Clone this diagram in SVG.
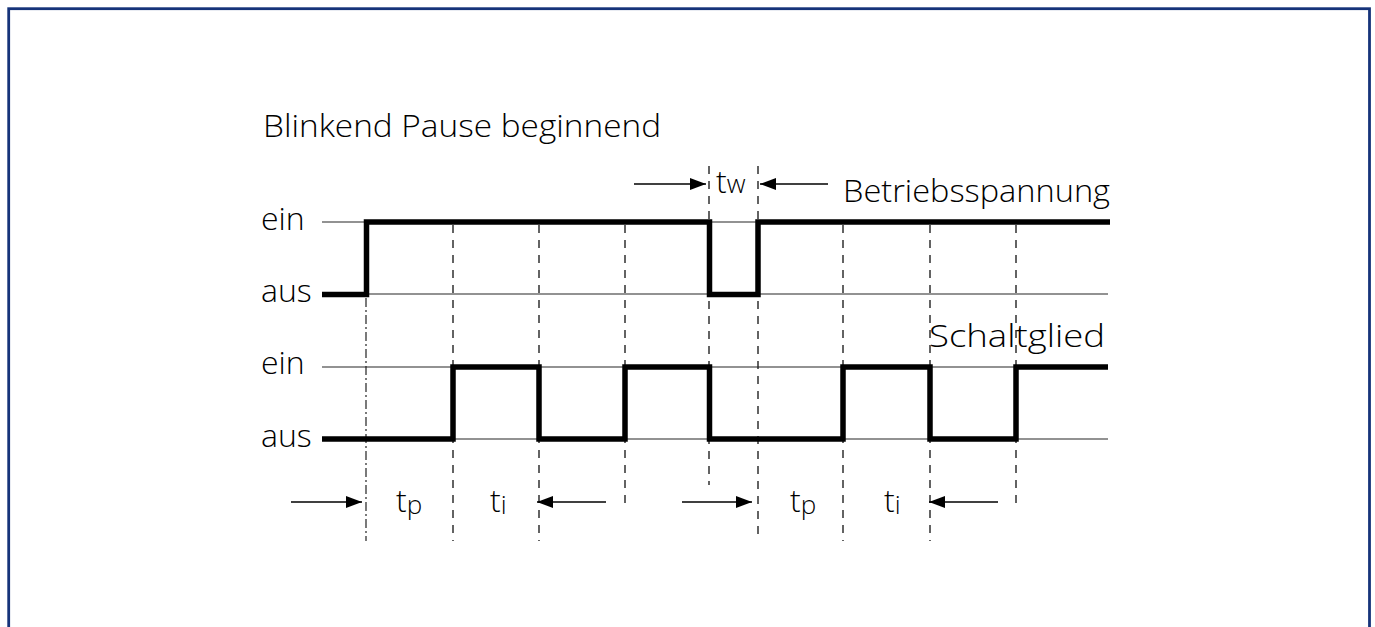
<svg xmlns="http://www.w3.org/2000/svg" width="1375" height="627" viewBox="0 0 1375 627">
  <style>
    text { font-family: "Open Sans", "Noto Sans", "DejaVu Sans", sans-serif; font-weight: 360; fill: #000; }
    .lbl { font-size: 32px; }
    .sub { font-size: 26px; }
    .ref { stroke: #6e6e6e; stroke-width: 1.4; fill: none; }
    .sig { stroke: #000; stroke-width: 5.5; fill: none; stroke-linejoin: miter; stroke-linecap: butt; }
    .guide { stroke: #222; stroke-width: 1.4; stroke-dasharray: 8 7; fill: none; }
    .guide0 { stroke: #222; stroke-width: 1.2; stroke-dasharray: 9 3 2 3; fill: none; }
    .arr { stroke: #000; stroke-width: 1.5; fill: none; marker-end: url(#ah); }
  </style>
  <defs>
    <marker id="ah" markerUnits="userSpaceOnUse" markerWidth="16" markerHeight="12" refX="16" refY="6" orient="auto">
      <path d="M0,0 L16,6 L0,12 z" fill="#000"/>
    </marker>
  </defs>
  <rect x="0" y="0" width="1375" height="627" fill="#fff"/>
  <rect id="frame" x="8.7" y="8.7" width="1360.8" height="640" fill="none" stroke="#16337a" stroke-width="2.8"/>

  <g id="title"><text class="lbl" x="263" y="137" textLength="398" lengthAdjust="spacingAndGlyphs">Blinkend Pause beginnend</text></g>

  <g id="axis-labels">
    <text class="lbl" x="261" y="230">ein</text>
    <text class="lbl" x="261" y="302">aus</text>
    <text class="lbl" x="261" y="374">ein</text>
    <text class="lbl" x="261" y="447">aus</text>
    <text class="lbl" x="843" y="202" textLength="267" lengthAdjust="spacingAndGlyphs">Betriebsspannung</text>
    <text class="lbl" x="929" y="347" textLength="176" lengthAdjust="spacingAndGlyphs">Schaltglied</text>
  </g>

  <g id="reference-lines">
    <line class="ref" x1="322" y1="222" x2="1108" y2="222"/>
    <line class="ref" x1="322" y1="294" x2="1108" y2="294"/>
    <line class="ref" x1="322" y1="367" x2="1108" y2="367"/>
    <line class="ref" x1="322" y1="439" x2="1108" y2="439"/>
  </g>

  <g id="guides">
    <line class="guide0" x1="366" y1="298" x2="366" y2="541"/>
    <line class="guide" x1="453" y1="225" x2="453" y2="541"/>
    <line class="guide" x1="539" y1="225" x2="539" y2="541"/>
    <line class="guide" x1="625" y1="225" x2="625" y2="503"/>
    <line class="guide" x1="709" y1="166" x2="709" y2="485"/>
    <line class="guide" x1="758" y1="166" x2="758" y2="541"/>
    <line class="guide" x1="843" y1="225" x2="843" y2="541"/>
    <line class="guide" x1="930" y1="225" x2="930" y2="541"/>
    <line class="guide" x1="1016" y1="225" x2="1016" y2="503"/>
  </g>

  <g id="signal-betriebsspannung">
    <path class="sig" d="M322,294.5 H366.5 V222 H709.5 V294.5 H758 V222 H1110"/>
  </g>
  <g id="signal-schaltglied">
    <path class="sig" d="M322,439 H453 V367 H539 V439 H625 V367 H709.5 V439 H843 V367 H930 V439 H1016 V367 H1108"/>
  </g>

  <g id="connectors">
    <line class="arr" x1="634" y1="184" x2="706" y2="184"/>
    <line class="arr" x1="828" y1="184" x2="760" y2="184"/>
    <line class="arr" x1="291" y1="502" x2="362" y2="502"/>
    <line class="arr" x1="606" y1="502" x2="537" y2="502"/>
    <line class="arr" x1="682" y1="502" x2="752" y2="502"/>
    <line class="arr" x1="998" y1="502" x2="929" y2="502"/>
  </g>

  <g id="time-labels">
    <text class="lbl" x="716" y="193">t<tspan class="sub">w</tspan></text>
    <text class="lbl" x="396" y="512">t<tspan class="sub" dy="2">p</tspan></text>
    <text class="lbl" x="490" y="512">t<tspan class="sub" dy="2">i</tspan></text>
    <text class="lbl" x="790" y="512">t<tspan class="sub" dy="2">p</tspan></text>
    <text class="lbl" x="884" y="512">t<tspan class="sub" dy="2">i</tspan></text>
  </g>
</svg>
